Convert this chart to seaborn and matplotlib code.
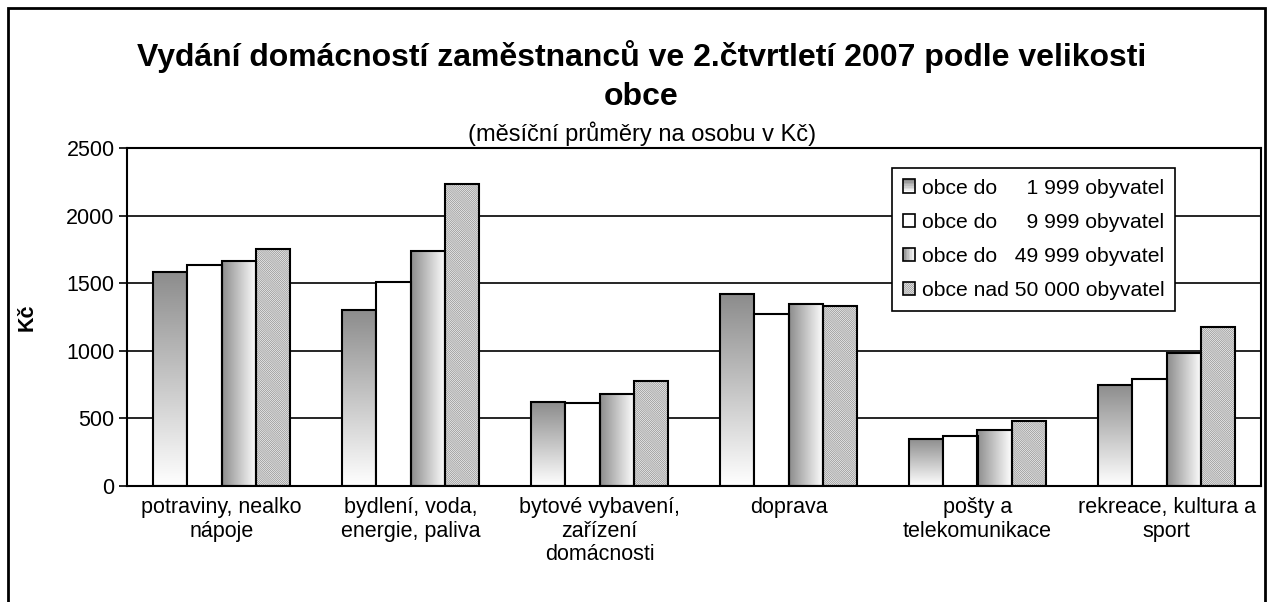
import numpy as np
import pandas as pd
import seaborn as sns
import matplotlib.pyplot as plt
from matplotlib.patches import Rectangle
from matplotlib.legend_handler import HandlerBase

# Data
categories = ["potraviny, nealko\nnápoje", "bydlení, voda,\nenergie, paliva",
              "bytové vybavení,\nzařízení\ndomácnosti", "doprava",
              "pošty a\ntelekomunikace", "rekreace, kultura a\nsport"]
series = ["obce do     1 999 obyvatel", "obce do     9 999 obyvatel",
          "obce do   49 999 obyvatel", "obce nad 50 000 obyvatel"]
do_1999 = [1585, 1305, 619, 1418, 349, 750]
do_9999 = [1635, 1512, 617, 1272, 369, 795]
do_49999 = [1662, 1737, 678, 1344, 411, 985]
nad_50000 = [1750, 2237, 780, 1331, 483, 1178]

df = pd.DataFrame({
    "kategorie": categories * 4,
    "obec": np.repeat(series, len(categories)),
    "Kč": do_1999 + do_9999 + do_49999 + nad_50000,
})

sns.set_style("white")
plt.rcParams["font.family"] = ["Liberation Sans", "DejaVu Sans"]
plt.rcParams["hatch.linewidth"] = 0.5
for k in ["text.color", "axes.labelcolor", "xtick.color", "ytick.color"]:
    plt.rcParams[k] = "black"

fig = plt.figure(figsize=(12.68, 6.02), dpi=100)
ax = fig.add_axes([127 / 1268, 1 - 486 / 602, 1134 / 1268, 338 / 602])

sns.barplot(data=df, x="kategorie", y="Kč", hue="obec", hue_order=series,
            palette=["white"] * 4, edgecolor="black", linewidth=1.5,
            width=0.73, gap=0, ax=ax, legend=False, zorder=3)

# grey-to-white gradients
vgrad = np.linspace(0, 1, 256).reshape(-1, 1)
hgrad = np.linspace(0, 1, 256).reshape(1, -1)
gcmap = plt.matplotlib.colors.LinearSegmentedColormap.from_list("g", ["#8c8c8c", "#ffffff"])
hatch_face, hatch_col, hatch_pat = "#f2f2f2", "#8e8e8e", "\\" * 16

for i, cont in enumerate(ax.containers):
    for bar in cont:
        x0, y0 = bar.get_x(), bar.get_y()
        w, h = bar.get_width(), bar.get_height()
        if i == 0:
            bar.set_facecolor("none")
            ax.imshow(vgrad, cmap=gcmap, aspect="auto", extent=(x0, x0 + w, y0, y0 + h),
                      zorder=2.5, interpolation="bilinear")
        elif i == 2:
            bar.set_facecolor("none")
            ax.imshow(hgrad, cmap=gcmap, aspect="auto", extent=(x0, x0 + w, y0, y0 + h),
                      zorder=2.5, interpolation="bilinear")
        elif i == 3:
            bar.set_facecolor("none")
            ax.add_patch(Rectangle((x0, y0), w, h, facecolor=hatch_face, edgecolor=hatch_col,
                                   linewidth=0, hatch=hatch_pat, zorder=2.5))

ax.set_xlim(-0.5, 5.5)
ax.set_ylim(0, 2500)
ax.set_yticks([0, 500, 1000, 1500, 2000, 2500])
ax.yaxis.grid(True, color="black", linewidth=1.2, zorder=1)
ax.set_axisbelow(True)
for s in ax.spines.values():
    s.set_visible(True)
    s.set_color("black")
    s.set_linewidth(1.5)

ax.set_xticks(range(len(categories)))
ax.set_xticklabels(categories, fontsize=15.5, linespacing=1.15)
ax.set_xticks(np.arange(-0.5, 6, 1), minor=True)
ax.tick_params(axis="x", which="major", length=0, pad=8)
ax.tick_params(axis="x", which="minor", length=7, width=1.2, direction="out", color="black")
ax.tick_params(axis="y", length=6, width=1.2, direction="out", color="black", labelsize=15.5, pad=3)
ax.tick_params(left=True, bottom=True)
ax.set_xlabel("")
ax.set_ylabel("Kč", fontsize=15.5, fontweight="bold")
ax.yaxis.set_label_coords(-0.079, 0.5)

# title and subtitle
fig.text(0.506, 1 - 57 / 602, "Vydání domácností zaměstnanců ve 2.čtvrtletí 2007 podle velikosti",
         ha="center", va="center", fontsize=23, fontweight="bold")
fig.text(0.506, 1 - 97 / 602, "obce", ha="center", va="center", fontsize=23, fontweight="bold")
fig.text(0.506, 1 - 134 / 602, "(měsíční průměry na osobu v Kč)", ha="center", va="center",
         fontsize=17)


class GradHandler(HandlerBase):
    def __init__(self, kind):
        super().__init__()
        self.kind = kind

    def create_artists(self, legend, orig_handle, xd, yd, width, height, fontsize, trans):
        arts = []
        n = 8
        if self.kind == "hatch":
            arts.append(Rectangle((-xd, -yd), width, height, facecolor=hatch_face,
                                  edgecolor=hatch_col, linewidth=0, hatch=hatch_pat,
                                  transform=trans))
        else:
            for k in range(n):
                c = gcmap(k / (n - 1)) if self.kind != "w" else "white"
                if self.kind == "v":
                    r = Rectangle((-xd, -yd + height - (k + 1) * height / n), width, height / n,
                                  facecolor=c, linewidth=0, transform=trans)
                else:
                    r = Rectangle((-xd + k * width / n, -yd), width / n, height,
                                  facecolor=c, linewidth=0, transform=trans)
                arts.append(r)
        arts.append(Rectangle((-xd, -yd), width, height, facecolor="none", edgecolor="black",
                              linewidth=1.2, transform=trans))
        return arts


handles = [Rectangle((0, 0), 1, 1) for _ in series]
hmap = {handles[0]: GradHandler("v"), handles[1]: GradHandler("w"),
        handles[2]: GradHandler("h"), handles[3]: GradHandler("hatch")}
leg = ax.legend(handles, series, handler_map=hmap, loc="upper left",
                bbox_to_anchor=(892 / 1268, 1 - 168 / 602), bbox_transform=fig.transFigure,
                fontsize=15.2, frameon=True, fancybox=False, framealpha=1, edgecolor="black",
                handlelength=0.6, handleheight=0.6, handletextpad=0.3, labelspacing=0.72,
                borderpad=0.5, borderaxespad=0)
leg.get_frame().set_linewidth(1.2)
leg.set_zorder(10)

# outer chart border
fig.patches.append(Rectangle((8 / 1268, -0.1), 1257 / 1268, 1.1 - 8 / 602, transform=fig.transFigure,
                             fill=False, edgecolor="black", linewidth=2))

fig.savefig("out.png", dpi=100)
